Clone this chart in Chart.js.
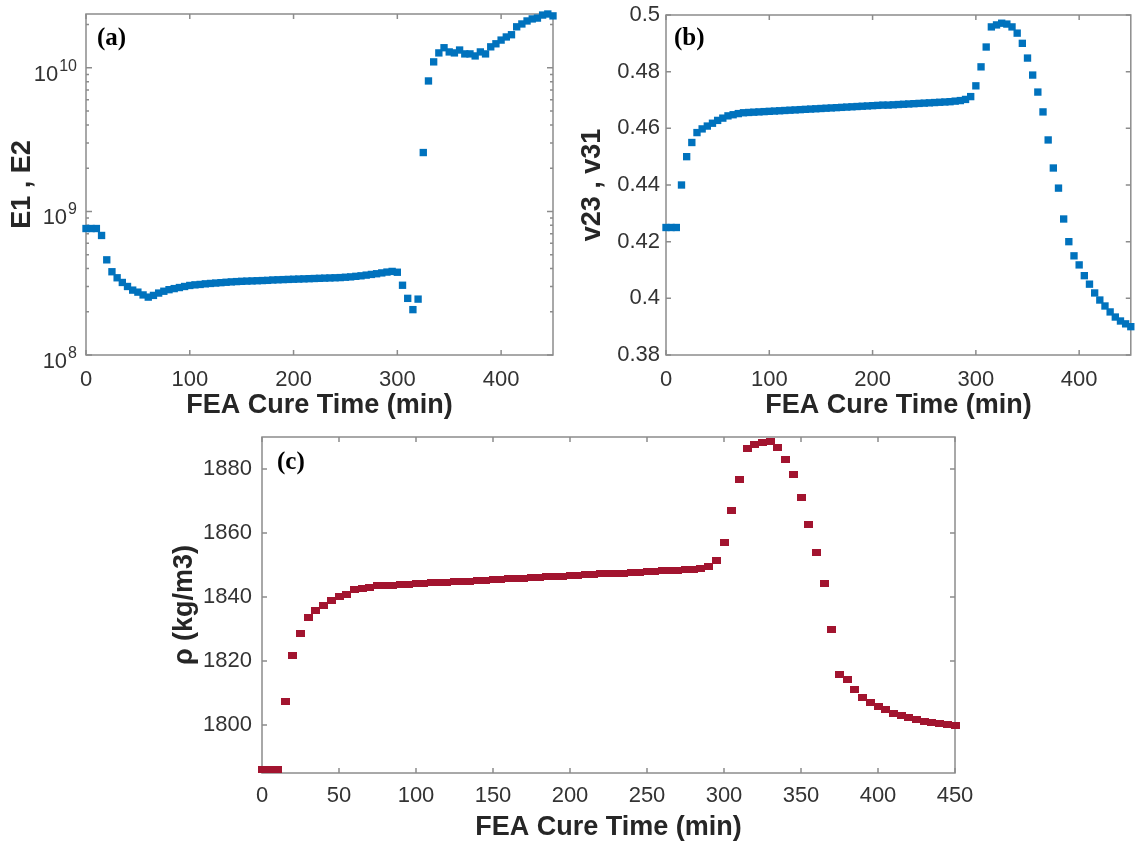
<!DOCTYPE html>
<html>
<head>
<meta charset="utf-8">
<script src="https://cdn.jsdelivr.net/npm/chart.js@4.4.1/dist/chart.umd.min.js"></script>
<style>
  body { margin: 0; background: #fff; }
  #wrap { position: relative; width: 1136px; height: 846px; overflow: hidden; background: #fff; }
  canvas { position: absolute; }
</style>
</head>
<body>
<div id="wrap">
  <canvas id="chartA" width="560" height="430" style="left:0;top:0"></canvas>
  <canvas id="chartB" width="576" height="430" style="left:560px;top:0"></canvas>
  <canvas id="chartC" width="820" height="426" style="left:160px;top:420px"></canvas>
</div>
<script>
// cure time (min), one sample every 5 min
const cureTime = [0,5,10,15,20,25,30,35,40,45,50,55,60,65,70,75,80,85,90,95,
  100,105,110,115,120,125,130,135,140,145,150,155,160,165,170,175,180,185,190,195,
  200,205,210,215,220,225,230,235,240,245,250,255,260,265,270,275,280,285,290,295,
  300,305,310,315,320,325,330,335,340,345,350,355,360,365,370,375,380,385,390,395,
  400,405,410,415,420,425,430,435,440,445,450];

// (a) E1, E2
const modulusE = [7.6e8,7.6e8,7.6e8,6.8e8,4.6e8,3.8e8,3.45e8,3.2e8,3.0e8,2.83e8,
  2.74e8,2.62e8,2.53e8,2.6e8,2.7e8,2.78e8,2.85e8,2.9e8,2.95e8,3.0e8,
  3.05e8,3.08e8,3.1e8,3.13e8,3.15e8,3.17e8,3.19e8,3.21e8,3.23e8,3.245e8,
  3.26e8,3.27e8,3.28e8,3.29e8,3.3e8,3.31e8,3.33e8,3.34e8,3.35e8,3.36e8,
  3.37e8,3.38e8,3.39e8,3.4e8,3.41e8,3.42e8,3.43e8,3.44e8,3.45e8,3.46e8,
  3.48e8,3.5e8,3.53e8,3.56e8,3.6e8,3.64e8,3.68e8,3.73e8,3.78e8,3.82e8,
  3.77e8,3.06e8,2.48e8,2.07e8,2.45e8,2.57e9,8.1e9,1.1e10,1.27e10,1.38e10,
  1.29e10,1.27e10,1.33e10,1.25e10,1.25e10,1.21e10,1.29e10,1.25e10,1.40e10,1.47e10,
  1.56e10,1.64e10,1.70e10,1.93e10,2.02e10,2.12e10,2.19e10,2.22e10,2.33e10,2.37e10,
  2.30e10];

// (b) v23, v31
const poisson = [0.425,0.425,0.425,0.440,0.450,0.455,0.4585,0.4598,0.4608,0.4618,
  0.4628,0.4636,0.4644,0.4648,0.4652,0.4655,0.4656,0.4657,0.4658,0.4659,
  0.4660,0.4661,0.4662,0.4663,0.4664,0.4665,0.4666,0.4667,0.4668,0.4669,
  0.4670,0.4671,0.4672,0.4673,0.4674,0.4675,0.4676,0.4677,0.4678,0.4679,
  0.4680,0.4681,0.4682,0.4682,0.4683,0.4684,0.4685,0.4686,0.4687,0.4688,
  0.4689,0.4690,0.4691,0.4692,0.4693,0.4694,0.4696,0.4698,0.4702,0.4712,
  0.475,0.4817,0.4887,0.4958,0.4965,0.4971,0.4968,0.4958,0.4936,0.490,
  0.4848,0.4788,0.4728,0.4658,0.4559,0.446,0.4389,0.428,0.420,0.415,
  0.4118,0.408,0.405,0.4019,0.3994,0.3973,0.3952,0.3934,0.392,0.391,
  0.390];

// (c) density
const density = [1786,1786,1786,1807.3,1821.6,1828.6,1833.5,1835.9,1837.2,1838.8,
  1840.1,1840.8,1842.2,1842.7,1843.0,1843.5,1843.6,1843.7,1843.8,1844.0,
  1844.1,1844.2,1844.4,1844.5,1844.6,1844.8,1844.9,1845.0,1845.2,1845.3,
  1845.4,1845.5,1845.7,1845.8,1845.9,1846.0,1846.2,1846.3,1846.4,1846.5,
  1846.7,1846.8,1846.9,1847.0,1847.2,1847.3,1847.4,1847.5,1847.7,1847.8,
  1847.9,1848.0,1848.2,1848.3,1848.4,1848.6,1848.7,1848.9,1849.5,1851.4,
  1857.0,1866.9,1876.8,1886.5,1887.8,1888.2,1888.5,1886.7,1883.0,1878.3,
  1871.2,1862.7,1854.0,1844.3,1830.0,1815.9,1814.1,1811.0,1808.6,1807.0,
  1805.7,1804.7,1803.6,1802.9,1802.3,1801.7,1801.2,1800.8,1800.5,1800.2,
  1800.0];

Chart.defaults.font.family = '"Liberation Sans", Arial, sans-serif';
Chart.defaults.color = '#333';

const BLUE = '#0072BD';
const RED = '#A2142F';

// panel (c) markers are a little wider than tall in the original figure
function wideMarker(color, w, h) {
  const c = document.createElement('canvas');
  c.width = w; c.height = h;
  const g = c.getContext('2d');
  g.fillStyle = color;
  g.fillRect(0, 0, w, h);
  return c;
}

// MATLAB-like box with inward ticks, panel tag, and 10^n labels
const frame = {
  id: 'frame',
  beforeDatasetsDraw(chart, args, opts) {
    const { ctx, chartArea: a, scales } = chart;
    ctx.save();
    ctx.strokeStyle = '#8c8c8c';
    ctx.lineWidth = 1.5;
    ctx.strokeRect(a.left, a.top, a.right - a.left, a.bottom - a.top);
    ctx.beginPath();
    scales.x.ticks.forEach((t, i) => {
      const px = scales.x.getPixelForTick(i);
      ctx.moveTo(px, a.bottom); ctx.lineTo(px, a.bottom - 5);
      ctx.moveTo(px, a.top); ctx.lineTo(px, a.top + 5);
    });
    const ys = scales.y;
    ys.ticks.forEach((t, i) => {
      let len = 5;
      if (ys.type === 'logarithmic') {
        const e = Math.floor(Math.log10(t.value) + 1e-9);
        const m = t.value / Math.pow(10, e);
        if (Math.abs(m - Math.round(m)) > 1e-6) return;
        len = Math.abs(m - 1) < 1e-6 ? 6 : 3;
      }
      const py = ys.getPixelForTick(i);
      ctx.moveTo(a.left, py); ctx.lineTo(a.left + len, py);
      ctx.moveTo(a.right, py); ctx.lineTo(a.right - len, py);
    });
    ctx.stroke();
    ctx.restore();
  },
  afterDraw(chart, args, opts) {
    const { ctx, chartArea: a, scales } = chart;
    ctx.save();
    ctx.fillStyle = '#000';
    ctx.textBaseline = 'alphabetic';
    ctx.textAlign = 'left';
    ctx.font = 'bold 25px "Liberation Serif", "Times New Roman", serif';
    ctx.fillText(opts.tag, a.left + opts.tagX, a.top + opts.tagY);
    if (opts.powerLabels) {
      const ys = scales.y;
      ctx.fillStyle = '#333';
      ys.ticks.forEach((t, i) => {
        const e = Math.round(Math.log10(t.value));
        if (Math.abs(Math.log10(t.value) - e) > 1e-9) return;
        const py = ys.getPixelForTick(i);
        ctx.font = '16px "Liberation Sans", Arial, sans-serif';
        const expText = String(e);
        const expW = ctx.measureText(expText).width;
        const xr = a.left - 9;
        ctx.fillText(expText, xr - expW, py + 3);
        ctx.font = '22px "Liberation Sans", Arial, sans-serif';
        const baseW = ctx.measureText('10').width;
        ctx.fillText('10', xr - expW - baseW - 1, py + 13);
      });
    }
    ctx.restore();
  }
};

function timeAxis(step, tickPad, titlePadBottom, height) {
  return {
    type: 'linear', min: 0, max: 450,
    grid: { display: false, drawTicks: false },
    border: { display: false },
    ticks: { stepSize: step, includeBounds: false, padding: tickPad, maxRotation: 0, autoSkip: false,
             font: { size: 22 }, callback: v => String(v) },
    title: { display: true, text: 'FEA Cure Time (min)', color: '#262626',
             font: { size: 27, weight: 'bold' }, padding: { top: 0, bottom: titlePadBottom } },
    afterFit(s) { s.height = height; s.paddingLeft = 0; s.paddingRight = 0; }
  };
}

function yTitle(text, padTop) {
  return { display: true, text: text, color: '#262626',
           font: { size: 27, weight: 'bold' }, padding: { top: padTop, bottom: 0 } };
}

function scatterSet(values, color, style) {
  return {
    data: cureTime.map((t, i) => ({ x: t, y: values[i] })),
    pointStyle: style || 'rect',
    pointRadius: 5.2,
    pointBorderWidth: 0,
    backgroundColor: color,
    borderColor: color,
    showLine: false,
    clip: false
  };
}

function baseOptions(padding, scales, frameOpts) {
  return {
    responsive: false,
    animation: false,
    devicePixelRatio: 1,
    layout: { padding: padding },
    plugins: { legend: { display: false }, tooltip: { enabled: false }, frame: frameOpts },
    scales: scales
  };
}

new Chart(document.getElementById('chartA'), {
  type: 'scatter',
  data: { datasets: [scatterSet(modulusE, BLUE)] },
  options: baseOptions({ left: 0, top: 14, right: 7, bottom: 0 }, {
    x: timeAxis(100, 12, 8, 75),
    y: {
      type: 'logarithmic', min: 1e8, max: 2.37e10,
      grid: { display: false, drawTicks: false },
      border: { display: false },
      ticks: { display: false, autoSkip: false },
      title: yTitle('E1 , E2', 6),
      afterFit(s) { s.width = 86; s.paddingTop = 0; s.paddingBottom = 0; }
    }
  }, { tag: '(a)', tagX: 11, tagY: 31, powerLabels: true }),
  plugins: [frame]
});

new Chart(document.getElementById('chartB'), {
  type: 'scatter',
  data: { datasets: [scatterSet(poisson, BLUE)] },
  options: baseOptions({ left: 0, top: 15, right: 2, bottom: 0 }, {
    x: timeAxis(100, 12, 8, 75),
    y: {
      type: 'linear', min: 0.38, max: 0.5,
      grid: { display: false, drawTicks: false },
      border: { display: false },
      ticks: { stepSize: 0.02, padding: 6, autoSkip: false, font: { size: 22 },
               callback: v => String(parseFloat(v.toFixed(2))) },
      title: yTitle('v23 , v31', 16),
      afterFit(s) { s.width = 106; s.paddingTop = 0; s.paddingBottom = 0; }
    }
  }, { tag: '(b)', tagX: 8, tagY: 30 }),
  plugins: [frame]
});

new Chart(document.getElementById('chartC'), {
  type: 'scatter',
  data: { datasets: [scatterSet(density, RED, wideMarker(RED, 9, 7))] },
  options: baseOptions({ left: 0, top: 17, right: 25, bottom: 0 }, {
    x: timeAxis(50, 10, 2, 73),
    y: {
      type: 'linear', min: 1785, max: 1890,
      grid: { display: false, drawTicks: false },
      border: { display: false },
      ticks: { stepSize: 20, includeBounds: false, padding: 10, autoSkip: false, font: { size: 22 },
               callback: v => String(v) },
      title: yTitle('ρ (kg/m3)', 8),
      afterFit(s) { s.width = 102; s.paddingTop = 0; s.paddingBottom = 0; }
    }
  }, { tag: '(c)', tagX: 15, tagY: 32 }),
  plugins: [frame]
});
</script>
</body>
</html>
